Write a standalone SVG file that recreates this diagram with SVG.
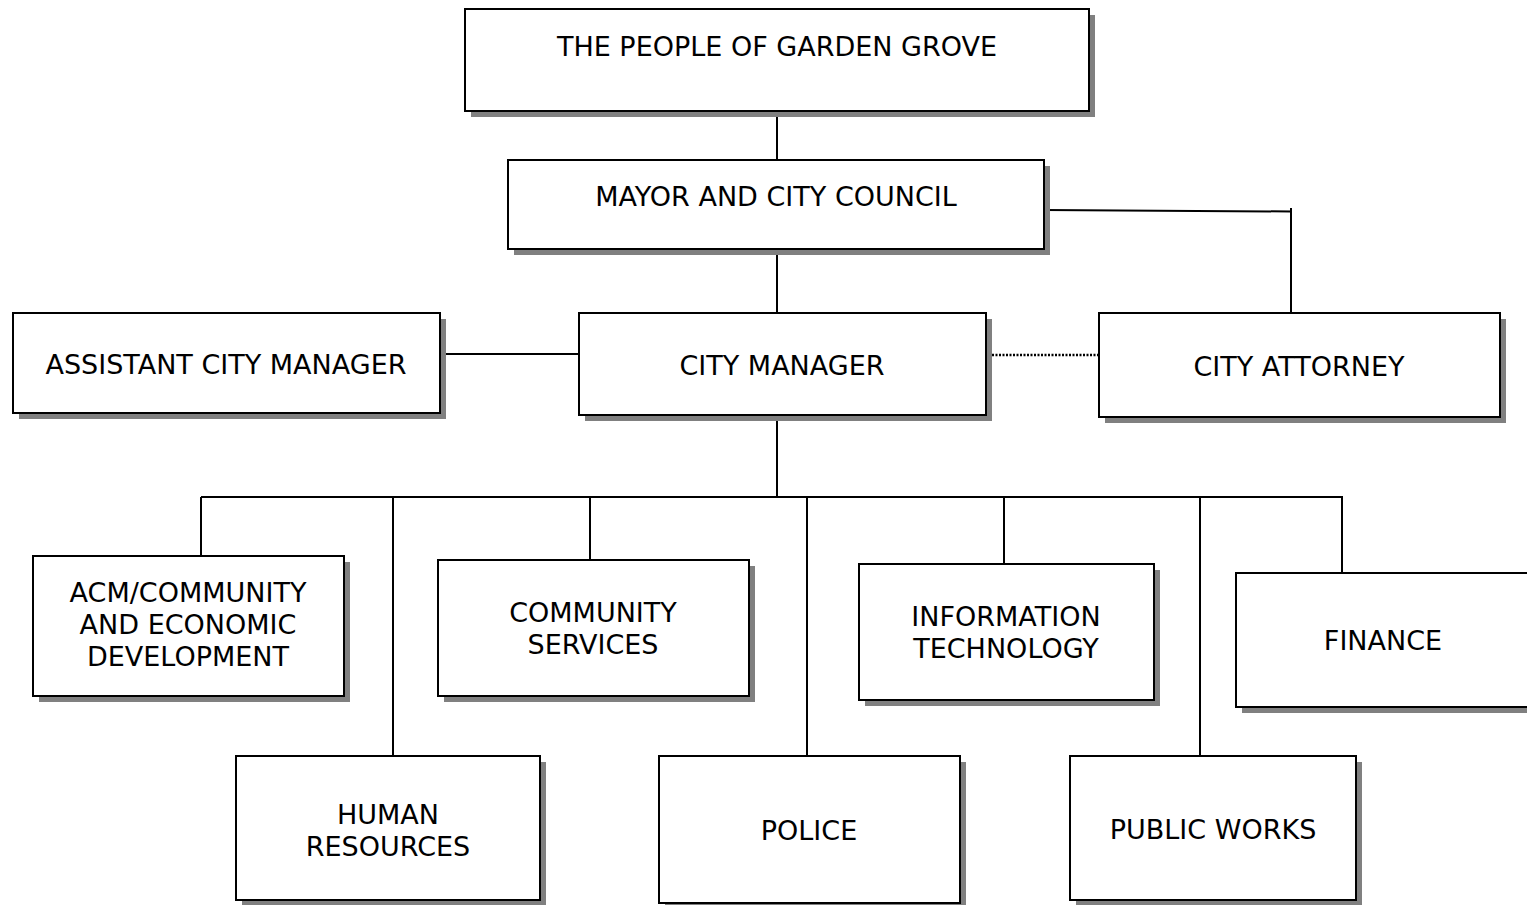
<svg xmlns="http://www.w3.org/2000/svg" width="1527" height="905" viewBox="0 0 1527 905">
<style>
.sh{fill:#808080;stroke:none}
.bx{fill:#fff;stroke:#000;stroke-width:2}
.t{font-family:"DejaVu Sans","Verdana",sans-serif;font-size:27px;fill:#000;text-anchor:middle}
.c{fill:none;stroke:#000;stroke-width:2}
.d{fill:none;stroke:#000;stroke-width:2.5;stroke-dasharray:2 1.5}
</style>
<rect width="1527" height="905" fill="#fff"/>
<g id="connectors">
<line class="c" x1="777" y1="111" x2="777" y2="160"/>
<line class="c" x1="777" y1="249" x2="777" y2="313"/>
<polyline class="c" points="1044,210 1291,211.5 1291,313"/>
<line class="c" x1="1291" y1="208" x2="1291" y2="212"/>
<line class="c" x1="440" y1="354" x2="579" y2="354"/>
<line class="d" x1="992" y1="355" x2="1099" y2="355"/>
<line class="c" x1="777" y1="415" x2="777" y2="497"/>
<line class="c" x1="201" y1="497" x2="1343" y2="497"/>
<line class="c" x1="201" y1="497" x2="201" y2="556"/>
<line class="c" x1="393" y1="498" x2="393" y2="756"/>
<line class="c" x1="590" y1="497" x2="590" y2="560"/>
<line class="c" x1="807" y1="498" x2="807" y2="756"/>
<line class="c" x1="1004" y1="497" x2="1004" y2="564"/>
<line class="c" x1="1200" y1="498" x2="1200" y2="756"/>
<line class="c" x1="1342" y1="497" x2="1342" y2="573"/>
</g>
<g id="people">
<rect class="sh" x="471" y="15" width="624" height="102"/>
<rect class="bx" x="465" y="9" width="624" height="102"/>
<text class="t" x="777" y="56">THE PEOPLE OF GARDEN GROVE</text>
</g>
<g id="mayor">
<rect class="sh" x="514" y="166" width="536" height="89"/>
<rect class="bx" x="508" y="160" width="536" height="89"/>
<text class="t" x="776" y="206">MAYOR AND CITY COUNCIL</text>
</g>
<g id="assistant">
<rect class="sh" x="19" y="319" width="427" height="100"/>
<rect class="bx" x="13" y="313" width="427" height="100"/>
<text class="t" x="226" y="374">ASSISTANT CITY MANAGER</text>
</g>
<g id="citymanager">
<rect class="sh" x="585" y="319" width="407" height="102"/>
<rect class="bx" x="579" y="313" width="407" height="102"/>
<text class="t" x="782" y="375">CITY MANAGER</text>
</g>
<g id="attorney">
<rect class="sh" x="1105" y="319" width="401" height="104"/>
<rect class="bx" x="1099" y="313" width="401" height="104"/>
<text class="t" x="1299" y="376">CITY ATTORNEY</text>
</g>
<g id="acm">
<rect class="sh" x="39" y="562" width="311" height="140"/>
<rect class="bx" x="33" y="556" width="311" height="140"/>
<text class="t" x="188" y="602">ACM/COMMUNITY</text>
<text class="t" x="188" y="634">AND ECONOMIC</text>
<text class="t" x="188" y="666">DEVELOPMENT</text>
</g>
<g id="communityservices">
<rect class="sh" x="444" y="566" width="311" height="136"/>
<rect class="bx" x="438" y="560" width="311" height="136"/>
<text class="t" x="593" y="622">COMMUNITY</text>
<text class="t" x="593" y="654">SERVICES</text>
</g>
<g id="it">
<rect class="sh" x="865" y="570" width="295" height="136"/>
<rect class="bx" x="859" y="564" width="295" height="136"/>
<text class="t" x="1006" y="626">INFORMATION</text>
<text class="t" x="1006" y="658">TECHNOLOGY</text>
</g>
<g id="finance">
<rect class="sh" x="1242" y="579" width="310" height="134"/>
<rect class="bx" x="1236" y="573" width="310" height="134"/>
<text class="t" x="1383" y="650">FINANCE</text>
</g>
<g id="hr">
<rect class="sh" x="242" y="762" width="304" height="144"/>
<rect class="bx" x="236" y="756" width="304" height="144"/>
<text class="t" x="388" y="824">HUMAN</text>
<text class="t" x="388" y="856">RESOURCES</text>
</g>
<g id="police">
<rect class="sh" x="665" y="762" width="301" height="147"/>
<rect class="bx" x="659" y="756" width="301" height="147"/>
<text class="t" x="809" y="840">POLICE</text>
</g>
<g id="publicworks">
<rect class="sh" x="1076" y="762" width="286" height="144"/>
<rect class="bx" x="1070" y="756" width="286" height="144"/>
<text class="t" x="1213" y="839">PUBLIC WORKS</text>
</g>
</svg>
